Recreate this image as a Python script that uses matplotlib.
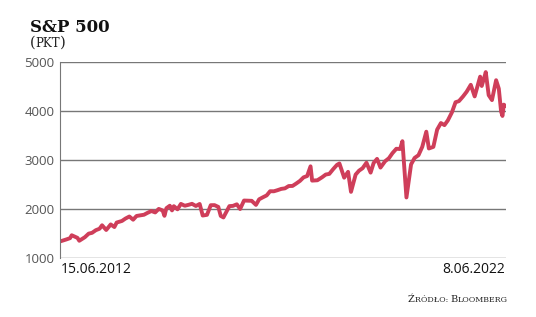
import pandas as pd
import matplotlib.pyplot as plt

# S&P 500, points (approx.)
dates = [
    "2012-06-15", "2012-07-31", "2012-08-31", "2012-09-14", "2012-10-31", "2012-11-15", "2012-12-31",
    "2013-01-31", "2013-02-28", "2013-03-31", "2013-04-30", "2013-05-21", "2013-06-24", "2013-07-31",
    "2013-08-30", "2013-09-18", "2013-10-31", "2013-11-29", "2013-12-31",
    "2014-01-31", "2014-02-28", "2014-03-31", "2014-04-30", "2014-05-30", "2014-06-30", "2014-07-31",
    "2014-08-29", "2014-09-30", "2014-10-15", "2014-10-31", "2014-11-28", "2014-12-16", "2014-12-31",
    "2015-01-30", "2015-02-27", "2015-03-31", "2015-04-30", "2015-05-29", "2015-06-30", "2015-07-31",
    "2015-08-25", "2015-09-29", "2015-10-30", "2015-11-30", "2015-12-31",
    "2016-01-20", "2016-02-11", "2016-03-31", "2016-04-29", "2016-05-31", "2016-06-27", "2016-07-29",
    "2016-08-31", "2016-09-30", "2016-11-04", "2016-11-30", "2016-12-30",
    "2017-01-31", "2017-02-28", "2017-03-31", "2017-04-28", "2017-05-31", "2017-06-30", "2017-07-31",
    "2017-08-31", "2017-09-29", "2017-10-31", "2017-11-30", "2017-12-29",
    "2018-01-26", "2018-02-08", "2018-03-23", "2018-04-30", "2018-05-31", "2018-06-29", "2018-07-31",
    "2018-08-31", "2018-09-20", "2018-10-29", "2018-11-30", "2018-12-24",
    "2019-01-31", "2019-02-28", "2019-03-29", "2019-04-30", "2019-06-03", "2019-06-28", "2019-07-26",
    "2019-08-23", "2019-09-30", "2019-10-31", "2019-11-29", "2019-12-31",
    "2020-01-31", "2020-02-19", "2020-03-23", "2020-04-30", "2020-05-29", "2020-06-30", "2020-07-31",
    "2020-09-02", "2020-09-23", "2020-10-30", "2020-11-30", "2020-12-31",
    "2021-01-29", "2021-02-26", "2021-03-31", "2021-04-30", "2021-05-28", "2021-06-30", "2021-07-30",
    "2021-09-02", "2021-10-04", "2021-11-18", "2021-12-01", "2021-12-31",
    "2022-01-03", "2022-01-27", "2022-02-23", "2022-03-29", "2022-04-20", "2022-05-09", "2022-05-20",
    "2022-05-31", "2022-06-08",
]
values = [
    1343, 1379, 1406, 1465, 1412, 1353, 1426,
    1498, 1515, 1569, 1598, 1669, 1573, 1686,
    1633, 1725, 1757, 1806, 1848,
    1783, 1859, 1872, 1884, 1924, 1960, 1931,
    2003, 1972, 1862, 2018, 2068, 1973, 2059,
    1995, 2105, 2068, 2086, 2107, 2063, 2104,
    1868, 1882, 2079, 2080, 2044,
    1860, 1829, 2060, 2065, 2097, 2001, 2174,
    2171, 2168, 2085, 2199, 2239,
    2279, 2364, 2363, 2384, 2412, 2423, 2470,
    2472, 2519, 2575, 2648, 2674,
    2873, 2581, 2588, 2648, 2705, 2718, 2816,
    2902, 2931, 2641, 2760, 2351,
    2704, 2784, 2834, 2946, 2744, 2942, 3025,
    2847, 2977, 3038, 3141, 3231,
    3226, 3386, 2237, 2912, 3044, 3100, 3271,
    3580, 3237, 3270, 3622, 3756,
    3714, 3811, 3973, 4181, 4204, 4298, 4395,
    4537, 4300, 4704, 4513, 4766,
    4797, 4326, 4225, 4631, 4459, 3991, 3901,
    4132, 4115,
]
tick_labels = ["15.06.2012", "8.06.2022"]
y_ticks = [1000, 2000, 3000, 4000, 5000]

s = pd.Series(values, index=pd.to_datetime(dates))

fig = plt.figure(figsize=(5.36, 3.17), dpi=100)
ax = fig.add_axes([0.112, 0.186, 0.832, 0.618])

ax.plot(s.index, s.values, color="#cf3e5a", lw=2.8, solid_joinstyle="round")

ax.set_ylim(1000, 5000)
ax.set_xlim(s.index[0] - pd.Timedelta(days=5), s.index[-1] + pd.Timedelta(days=10))
ax.set_yticks(y_ticks)
ax.set_yticklabels([str(v) for v in y_ticks], fontsize=9.5, color="#555555", family="Open Sans")
ax.grid(axis="y", color="#777777", lw=1)
ax.set_axisbelow(True)
for side in ["top", "right", "bottom"]:
    ax.spines[side].set_visible(False)
ax.spines["left"].set_color("#777777")
ax.tick_params(axis="y", length=0, pad=4)

ax.set_xticks([s.index[0], s.index[-1]])
ax.set_xticklabels(tick_labels, fontsize=10, family="Open Sans", color="#111111")
ax.get_xticklabels()[0].set_ha("left")
ax.get_xticklabels()[1].set_ha("right")
ax.tick_params(axis="x", length=0, pad=3)

fig.text(0.056, 0.899, "S&P 500", fontsize=12, weight="bold", family="DejaVu Serif",
         color="#111111")


# small caps look: pieces of text in two sizes, set one after another
def draw_pieces(x, y, parts, color):
    renderer = fig.canvas.get_renderer()
    cur = x
    for txt, size in parts:
        t = fig.text(cur, y, txt, fontsize=size, family="DejaVu Serif", color=color,
                     va="baseline")
        cur += t.get_window_extent(renderer).width / fig.bbox.width
    return cur


draw_pieces(0.056, 0.852, [("(", 10.5), ("PKT", 8.5), (")", 10.5)], "#222222")
src = [("Ź", 7), ("RÓDŁO: ", 5.7), ("B", 7), ("LOOMBERG", 5.7)]
draw_pieces(0.761, 0.047, src, "#222222")

plt.savefig("out.png", dpi=100)
